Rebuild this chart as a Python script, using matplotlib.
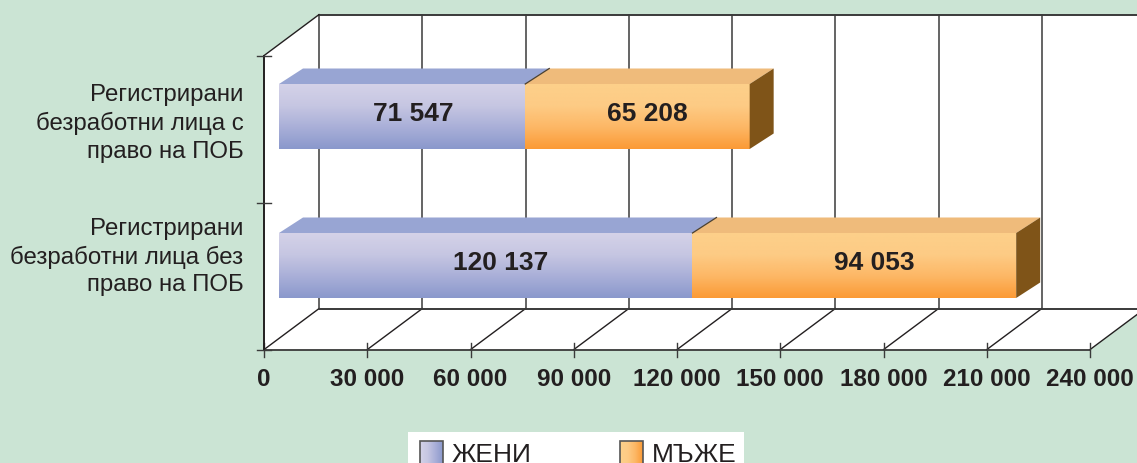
import numpy as np
import matplotlib
matplotlib.use('Agg')
import matplotlib.pyplot as plt
from matplotlib.colors import LinearSegmentedColormap
from matplotlib.patches import Polygon, Rectangle

plt.rcParams['font.family'] = ['Liberation Sans', 'DejaVu Sans']

# Data (bottom category first)
categories = ['Регистрирани\nбезработни лица без\nправо на ПОБ',
              'Регистрирани\nбезработни лица с\nправо на ПОБ']
women = [120137, 71547]
men = [94053, 65208]
x_ticks = [0, 30000, 60000, 90000, 120000, 150000, 180000, 210000, 240000]
x_tick_labels = ['0', '30 000', '60 000', '90 000', '120 000', '150 000', '180 000', '210 000', '240 000']
series_names = ['ЖЕНИ', 'МЪЖЕ']

BG = '#CBE4D4'
DARK = '#231F20'
W, H = 1137, 464

# axis scale: value 0 at px 264, 240000 at px 1090; category 0 at py 350.6, 2 at py 56.6
PX = (1090 - 264) / 240000
PY = 294 / 2


def xd(px):
    return (px - 264) / PX


def yd(py):
    return (350.6 - py) / PY


blue_cm = LinearSegmentedColormap.from_list('b', ['#D4D2E8', '#C6C6E2', '#A9AFD8', '#8A98CC'])
orange_cm = LinearSegmentedColormap.from_list('o', ['#FDD08A', '#FDCB85', '#FDB765', '#FB9A35'])

fig = plt.figure(figsize=(W / 100, H / 100), dpi=100, facecolor=BG)
ax = fig.add_axes([0, 0, 1, 1])
ax.axis('off')

# chart box depth
wall_dx = 55 / PX
wall_dy = 41 / PY
x_max = x_ticks[-1]

ax.add_patch(Polygon([(0, 0), (wall_dx, wall_dy), (wall_dx, 2 + wall_dy), (0, 2)], fc='white', ec='none', zorder=1))
ax.add_patch(Polygon([(wall_dx, wall_dy), (x_max + wall_dx, wall_dy), (x_max + wall_dx, 2 + wall_dy), (wall_dx, 2 + wall_dy)],
                     fc='white', ec='none', zorder=1))
ax.add_patch(Polygon([(0, 0), (x_max, 0), (x_max + wall_dx, wall_dy), (wall_dx, wall_dy)], fc='white', ec='none', zorder=1))

# grid on back wall and floor
for t in x_ticks:
    ax.plot([t + wall_dx, t + wall_dx], [wall_dy, 2 + wall_dy], color='#4A4A4A', lw=1.2, zorder=2)
    ax.plot([t, t + wall_dx], [0, wall_dy], color=DARK, lw=1.0, zorder=2)
    ax.plot([t, t], [-7 / PY, 7 / PY], color='#3A3A3A', lw=1.0, zorder=3)
ax.plot([wall_dx, x_max + wall_dx], [wall_dy, wall_dy], color='#3A3A3A', lw=1.4, zorder=2)
ax.plot([wall_dx, x_max + wall_dx], [2 + wall_dy, 2 + wall_dy], color='#3A3A3A', lw=1.4, zorder=2)
ax.plot([0, x_max], [0, 0], color='#3A3A3A', lw=1.3, zorder=3)
ax.plot([0, 0], [0, 2], color=DARK, lw=1.4, zorder=3)
ax.plot([0, wall_dx], [2, 2 + wall_dy], color=DARK, lw=1.0, zorder=3)
for c in [0, 1, 2]:
    ax.plot([-7 / PX, 7 / PX], [c, c], color='#3A3A3A', lw=1.0, zorder=3)

# 3d bars
bar_x0 = 15 / PX
bar_h = 65 / PY
bar_base = [51.6 / PY, 53.6 / PY]
bar_dx = 24 / PX
bar_dy = 15.5 / PY
label_shift = [(15 / PX, 20 / PX), (11 / PX, 10 / PX)]
grad = np.linspace(0, 1, 256).reshape(-1, 1)
grad_h = np.linspace(0, 1, 256).reshape(1, -1)

for i in range(len(categories)):
    y0 = i + bar_base[i]
    y1 = y0 + bar_h
    left = bar_x0
    for j, (val, cm, top_c) in enumerate([(women[i], blue_cm, '#98A5D3'), (men[i], orange_cm, '#EFBB7B')]):
        right = left + val
        ax.imshow(grad, cmap=cm, extent=[left, right, y0, y1], aspect='auto', origin='upper', zorder=4)
        ax.add_patch(Polygon([(left, y1), (right, y1), (right + bar_dx, y1 + bar_dy), (left + bar_dx, y1 + bar_dy)],
                             fc=top_c, ec='none', zorder=4))
        ax.text((left + right) / 2 + label_shift[i][j], y0 + bar_h / 2 + 4 / PY, f'{val:,}'.replace(',', ' '),
                ha='center', va='center', fontsize=19, fontweight='bold', color=DARK, zorder=6)
        left = right
    # side face and seam
    ax.add_patch(Polygon([(left, y0), (left + bar_dx, y0 + bar_dy), (left + bar_dx, y1 + bar_dy), (left, y1)],
                         fc='#7F5418', ec='none', zorder=5))
    seam = bar_x0 + women[i]
    ax.plot([seam, seam + bar_dx], [y1, y1 + bar_dy], color='#4A4030', lw=0.9, zorder=5)

# tick labels
for t, lab in zip(x_ticks, x_tick_labels):
    ax.text(t, yd(379), lab, ha='center', va='center', fontsize=17.5, fontweight='bold', color=DARK, zorder=6)
for lab, py in zip(categories, [257, 123.7]):
    ax.text(xd(243.5), yd(py), lab, ha='right', va='center', fontsize=17.3, color=DARK, linespacing=1.33, zorder=6)

# legend
ax.add_patch(Rectangle((xd(408), yd(470)), 336 / PX, 37 / PY, fc='white', ec='none', zorder=6))
for name, cm, px in zip(series_names, [blue_cm, orange_cm], [420, 620]):
    ax.imshow(grad_h, cmap=cm, extent=[xd(px), xd(px + 23), yd(470), yd(442)], aspect='auto', zorder=7)
    ax.add_patch(Rectangle((xd(px), yd(470)), 23 / PX, 28 / PY, fc='none', ec='#555555', lw=1.2, zorder=8))
    ax.text(xd(px + 32), yd(462), name, ha='left', va='baseline', fontsize=19, color=DARK, zorder=8)

ax.set_xlim(xd(0), xd(W))
ax.set_ylim(yd(H), yd(0))

fig.savefig('out.png', dpi=100, facecolor=BG)
